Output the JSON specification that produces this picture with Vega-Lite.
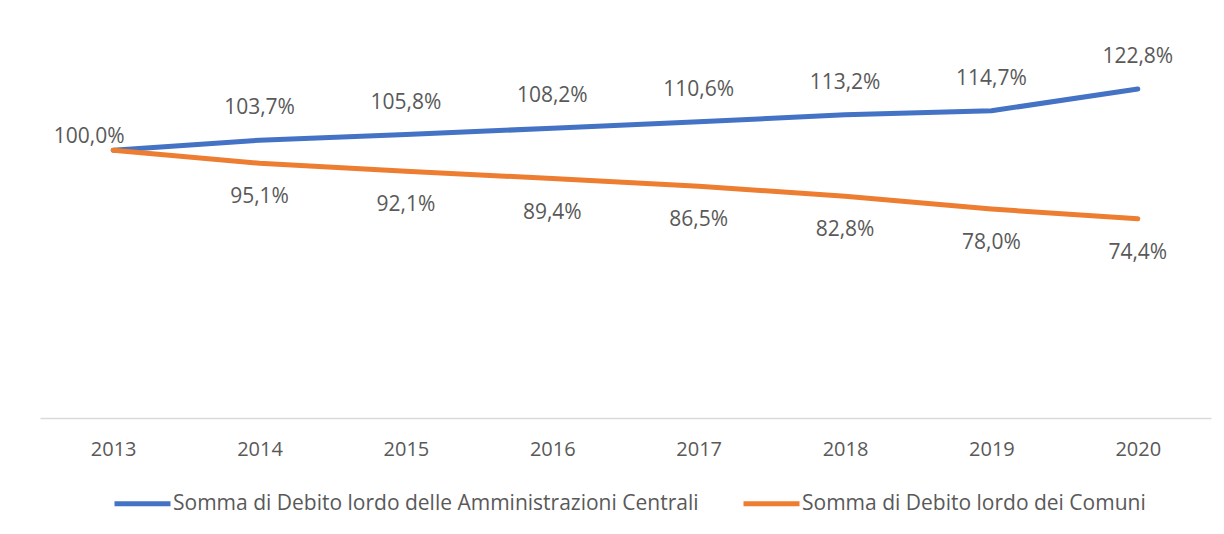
{
  "$schema": "https://vega.github.io/schema/vega-lite/v6.json",
  "autosize": {"type": "none"},
  "width": 1171,
  "height": 375,
  "padding": {"left": 40, "top": 43, "right": 13, "bottom": 116},
  "background": "white",
  "config": {
    "view": {"stroke": null},
    "locale": {"number": {"decimal": ",", "thousands": ".", "grouping": [3], "currency": ["€", ""]}},
    "font": "Open Sans"
  },
  "data": {
    "values": [
      {"year": "2013", "series": "Somma di Debito lordo delle Amministrazioni Centrali", "value": 1.000},
      {"year": "2014", "series": "Somma di Debito lordo delle Amministrazioni Centrali", "value": 1.037},
      {"year": "2015", "series": "Somma di Debito lordo delle Amministrazioni Centrali", "value": 1.058},
      {"year": "2016", "series": "Somma di Debito lordo delle Amministrazioni Centrali", "value": 1.082},
      {"year": "2017", "series": "Somma di Debito lordo delle Amministrazioni Centrali", "value": 1.106},
      {"year": "2018", "series": "Somma di Debito lordo delle Amministrazioni Centrali", "value": 1.132},
      {"year": "2019", "series": "Somma di Debito lordo delle Amministrazioni Centrali", "value": 1.147},
      {"year": "2020", "series": "Somma di Debito lordo delle Amministrazioni Centrali", "value": 1.228},
      {"year": "2013", "series": "Somma di Debito lordo dei Comuni", "value": 1.000},
      {"year": "2014", "series": "Somma di Debito lordo dei Comuni", "value": 0.951},
      {"year": "2015", "series": "Somma di Debito lordo dei Comuni", "value": 0.921},
      {"year": "2016", "series": "Somma di Debito lordo dei Comuni", "value": 0.894},
      {"year": "2017", "series": "Somma di Debito lordo dei Comuni", "value": 0.865},
      {"year": "2018", "series": "Somma di Debito lordo dei Comuni", "value": 0.828},
      {"year": "2019", "series": "Somma di Debito lordo dei Comuni", "value": 0.780},
      {"year": "2020", "series": "Somma di Debito lordo dei Comuni", "value": 0.744}
    ]
  },
  "encoding": {
    "x": {
      "field": "year", "type": "ordinal",
      "scale": {"type": "point", "padding": 0.5},
      "axis": {
        "title": null, "labelAngle": 0, "ticks": false,
        "domainColor": "#d9d9d9", "domainWidth": 1.5,
        "labelColor": "#595959", "labelFontSize": 20, "labelPadding": 21,
        "labelFont": "Open Sans"
      }
    },
    "y": {
      "field": "value", "type": "quantitative",
      "scale": {"domain": [0, 1.4], "nice": false, "zero": true},
      "axis": null
    }
  },
  "layer": [
    {
      "mark": {"type": "line", "strokeWidth": 5, "strokeCap": "round", "strokeJoin": "round"},
      "encoding": {
        "color": {
          "field": "series", "type": "nominal",
          "scale": {
            "domain": ["Somma di Debito lordo delle Amministrazioni Centrali", "Somma di Debito lordo dei Comuni"],
            "range": ["#4472C4", "#ED7D31"]
          },
          "legend": {
            "title": null, "orient": "none", "direction": "horizontal",
            "legendX": 72, "legendY": 430,
            "symbolType": "stroke", "symbolSize": 3136, "symbolStrokeWidth": 5,
            "labelFontSize": 21, "labelColor": "#595959", "labelFont": "Open Sans",
            "labelOffset": 0, "columnPadding": 34, "labelLimit": 0
          }
        }
      }
    },
    {
      "transform": [{"filter": "datum.year != '2013' && datum.series == 'Somma di Debito lordo delle Amministrazioni Centrali'"}],
      "mark": {"type": "text", "dy": -32, "fontSize": 21, "color": "#595959", "baseline": "middle", "font": "Open Sans"},
      "encoding": {"text": {"field": "value", "type": "quantitative", "format": ".1%"}}
    },
    {
      "transform": [{"filter": "datum.year != '2013' && datum.series == 'Somma di Debito lordo dei Comuni'"}],
      "mark": {"type": "text", "dy": 34, "fontSize": 21, "color": "#595959", "baseline": "middle", "font": "Open Sans"},
      "encoding": {"text": {"field": "value", "type": "quantitative", "format": ".1%"}}
    },
    {
      "transform": [{"filter": "datum.year == '2013' && datum.series == 'Somma di Debito lordo delle Amministrazioni Centrali'"}],
      "mark": {"type": "text", "dx": -24, "dy": -13, "fontSize": 21, "color": "#595959", "baseline": "middle", "font": "Open Sans"},
      "encoding": {"text": {"field": "value", "type": "quantitative", "format": ".1%"}}
    }
  ]
}
